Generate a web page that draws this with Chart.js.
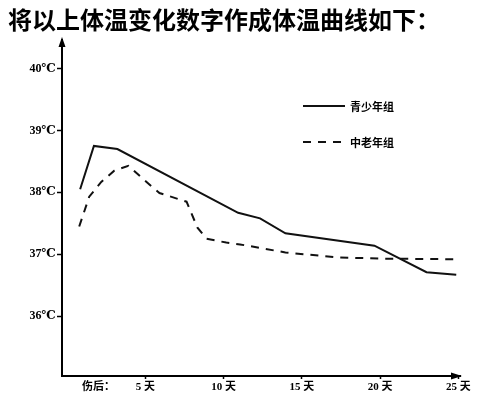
<!DOCTYPE html>
<html>
<head>
<meta charset="utf-8">
<script src="https://cdn.jsdelivr.net/npm/chart.js@4.4.1/dist/chart.umd.min.js"></script>
<style>
  html, body { margin: 0; padding: 0; background: #fff; }
  canvas { display: block; }
</style>
</head>
<body>
<canvas id="c" width="500" height="398"></canvas>
<script>
// ---- data ----
const titleText = '将以上体温变化数字作成体温曲线如下：';
const seriesNames = ['青少年组', '中老年组'];

// 青少年组 (solid line): day after injury, body temperature (°C)
const youngDays  = [0.83, 1.71, 3.21, 10.93, 12.33, 13.95, 19.64, 22.97, 24.87];
const youngTemps = [38.05, 38.75, 38.70, 37.67, 37.58, 37.34, 37.14, 36.71, 36.67];

// 中老年组 (dashed line)
const elderDays  = [0.77, 1.41, 2.18, 3.01, 3.91, 5.38, 5.90, 7.63, 8.33, 8.91, 10.17, 11.05, 13.95, 17.29, 20.13, 24.87];
const elderTemps = [37.45, 37.93, 38.17, 38.35, 38.43, 38.10, 37.99, 37.85, 37.43, 37.25, 37.19, 37.16, 37.03, 36.95, 36.93, 36.92];

// axis ticks
const yTickValues = [36, 37, 38, 39, 40];
const yTickLabels = ['36℃', '37℃', '38℃', '39℃', '40℃'];
const xTickValues = [2, 5, 10, 15, 20, 25];
const xTickLabels = ['伤后：', '5 天', '10 天', '15 天', '20 天', '25 天'];

// ---- chart ----
const xTickFont = { family: "'Liberation Serif', 'Noto Sans CJK SC', serif", size: 11, weight: 'bold' };
const yTickFont = { family: "'Liberation Serif', 'DejaVu Serif', serif", size: 12, weight: 'bold' };

const legendAndArrows = {
  id: 'legendAndArrows',
  afterDraw(chart) {
    const ctx = chart.ctx;
    const area = chart.chartArea;
    ctx.save();
    ctx.fillStyle = '#000';
    // y axis arrowhead
    const xa = chart.scales.y.right;
    ctx.beginPath();
    ctx.moveTo(xa, area.top - 3);
    ctx.lineTo(xa - 3.5, area.top + 7);
    ctx.lineTo(xa + 3.5, area.top + 7);
    ctx.closePath();
    ctx.fill();
    // x axis arrowhead
    const ya = chart.scales.x.top;
    ctx.beginPath();
    ctx.moveTo(area.right + 2, ya);
    ctx.lineTo(area.right - 9, ya - 3.5);
    ctx.lineTo(area.right - 9, ya + 3.5);
    ctx.closePath();
    ctx.fill();

    // legend
    const rows = [106, 142];
    chart.data.datasets.forEach((ds, i) => {
      const y = rows[i];
      ctx.strokeStyle = ds.borderColor;
      ctx.lineWidth = 2;
      ctx.setLineDash(ds.borderDash || []);
      ctx.beginPath();
      ctx.moveTo(303, y);
      ctx.lineTo(345, y);
      ctx.stroke();
      ctx.setLineDash([]);
      ctx.fillStyle = '#000';
      ctx.font = "bold 11px 'Noto Sans CJK SC'";
      ctx.textAlign = 'left';
      ctx.textBaseline = 'middle';
      ctx.fillText(ds.label, 350, y + 1);
    });
    ctx.restore();
  }
};

new Chart(document.getElementById('c'), {
  type: 'line',
  data: {
    datasets: [
      {
        label: seriesNames[0],
        data: youngDays.map((d, i) => ({ x: d, y: youngTemps[i] })),
        borderColor: '#111',
        borderWidth: 2,
        pointRadius: 0,
        tension: 0,
        fill: false
      },
      {
        label: seriesNames[1],
        data: elderDays.map((d, i) => ({ x: d, y: elderTemps[i] })),
        borderColor: '#111',
        borderWidth: 2,
        borderDash: [8, 7],
        pointRadius: 0,
        tension: 0,
        fill: false
      }
    ]
  },
  options: {
    responsive: false,
    animation: false,
    layout: { padding: { left: 8, right: 40, top: 0, bottom: 0 } },
    plugins: {
      legend: { display: false },
      tooltip: { enabled: false },
      title: {
        display: true,
        text: titleText,
        align: 'start',
        color: '#000',
        font: { family: "'Noto Sans CJK SC'", size: 24, weight: 'bold', lineHeight: 1.2 },
        padding: { top: 5, bottom: 6.2 }
      }
    },
    scales: {
      x: {
        type: 'linear',
        min: -0.33,
        max: 25.11,
        afterBuildTicks(scale) { scale.ticks = xTickValues.map(v => ({ value: v })); },
        afterFit(scale) { scale.height = 22; },
        grid: {
          drawOnChartArea: false,
          drawTicks: true,
          tickLength: 3,
          tickWidth: 1.5,
          tickColor: (c) => (c.tick && c.tick.value === xTickValues[0]) ? 'rgba(0,0,0,0)' : '#000'
        },
        border: { color: '#000', width: 2 },
        ticks: {
          autoSkip: false,
          maxRotation: 0,
          padding: 2,
          color: '#000',
          font: xTickFont,
          callback: (v) => { const k = xTickValues.indexOf(v); return k >= 0 ? xTickLabels[k] : ''; }
        }
      },
      y: {
        type: 'linear',
        min: 35.034,
        max: 40.462,
        afterBuildTicks(scale) { scale.ticks = yTickValues.map(v => ({ value: v })); },
        afterFit(scale) { scale.width = 54; },
        grid: {
          drawOnChartArea: false,
          drawTicks: true,
          tickLength: 5,
          tickWidth: 1.5,
          tickColor: '#000'
        },
        border: { color: '#000', width: 2 },
        ticks: {
          autoSkip: false,
          padding: 1,
          color: '#000',
          font: yTickFont,
          callback: (v) => { const k = yTickValues.indexOf(v); return k >= 0 ? yTickLabels[k] : ''; }
        }
      }
    }
  },
  plugins: [legendAndArrows]
});
</script>
</body>
</html>
